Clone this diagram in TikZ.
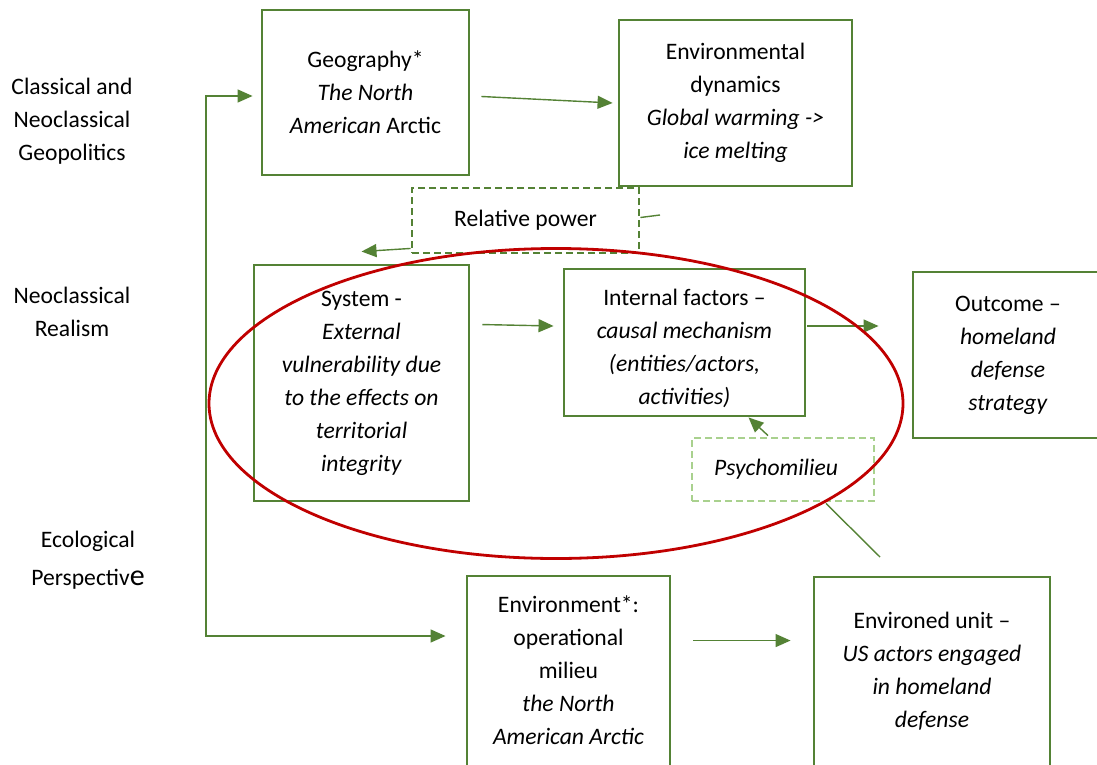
\documentclass[tikz,border=0pt]{standalone}
\usepackage{fontspec}
\setmainfont{Carlito}
\usetikzlibrary{arrows.meta,calc}
\definecolor{gr}{RGB}{84,130,53}
\definecolor{lgr}{RGB}{169,209,142}
\definecolor{rd}{RGB}{192,0,0}
\begin{document}
\begin{tikzpicture}[x=1pt,y=-1pt,
  every node/.style={font=\fontsize{23.6}{33}\selectfont, text=black},
  box/.style={draw=gr, line width=2.9pt, align=center, inner sep=0pt},
  dbox/.style={box, dash pattern=on 7pt off 4pt},
  arr/.style={draw=gr, line width=1.4pt, -{Triangle[length=15pt,width=13pt]}},
  biarr/.style={draw=gr, line width=1.4pt, {Triangle[length=15pt,width=13pt]}-{Triangle[length=15pt,width=13pt]}},
  ln/.style={draw=gr, line width=1.4pt},
  lab/.style={align=center, inner sep=0pt}]
\useasboundingbox (0,0) rectangle (1097,765);
\clip (0,0) rectangle (1097,765);

% left labels
\node[lab] (l1) at (72,121) {Classical and\\Neoclassical\\Geopolitics};
\node[lab] (l2) at (72,312) {Neoclassical\\Realism};
\node[lab] (l3) at (88,541) {Ecological};
\node[lab] (l4) at (88,579) {Perspectiv{\fontsize{30}{33}\selectfont e}};

% boxes
\node[box, minimum width=207pt, minimum height=165pt] (geo) at (365.5,92.5)
  {Geography*\\\textit{The North}\\\textit{American} Arctic};
\node[box, minimum width=233pt, minimum height=166pt] (envd) at (735.5,103)
  {Environmental\\dynamics\\\textit{Global warming ->}\\\textit{ice melting}};
\node[dbox, minimum width=227pt, minimum height=65pt] (rp) at (525.5,220.5)
  {Relative power};
\node[box, minimum width=215pt, minimum height=236pt] (sys) at (361.5,383)
  {System -\\\textit{External}\\\textit{vulnerability due}\\\textit{to the effects on}\\\textit{territorial}\\\textit{integrity}};
\node[box, minimum width=241pt, minimum height=147pt] (int) at (684.5,342.5) {};
\node[lab] (intt) at (684.5,348.5)
  {Internal factors –\\\textit{causal mechanism}\\\textit{(entities/actors,}\\\textit{activities)}};
\node[box, minimum width=190pt, minimum height=166pt] (out) at (1008,355)
  {Outcome –\\\textit{homeland}\\\textit{defense}\\\textit{strategy}};
\node[dbox, draw=lgr, minimum width=182pt, minimum height=63pt] (psy) at (783,469.5) {};
\node[lab] (psyt) at (776,469.5) {\textit{Psychomilieu}};
\node[box, minimum width=203pt, minimum height=224pt] (envm) at (568.5,688) {};
\node[lab] (envmt) at (568.5,670)
  {Environment*:\\operational\\milieu\\\textit{the North}\\\textit{American Arctic}};
\node[box, minimum width=236pt, minimum height=223pt] (enu) at (932,688.5) {};
\node[lab] (enut) at (932,671)
  {Environed unit –\\\textit{US actors engaged}\\\textit{in homeland}\\\textit{defense}};

% connectors
\draw[arr] ($(geo.east)+(11,4)$) -- ($(envd.west)+(-5,0)$);
\draw[arr] ($(rp.south west)+(0,-6)$) -- ($(sys.north)+(0,-12)$);
\coordinate (stub) at (660,215);
\draw[ln] ($(rp.east)+(0,-3)$) -- (stub);
\draw[arr] ($(sys.north east)+(12,61)$) -- ($(int.west)+(-9,-16.5)$);
\draw[arr] ($(int.east)+(1,-16.5)$) -- ($(out.west)+(-33,-29)$);
\draw[arr] ($(psy.north)+(-15,-1)$) -- ($(int.south)+(64,0)$);
\coordinate (pe) at (880,557);
\draw[ln] (pe) -- ($(psy.south)+(43,1)$);
\coordinate (lt) at (206,96);
\coordinate (lb) at (206,636);
\draw[biarr] ($(geo.west)+(-8,3.5)$) -- (lt) -- (lb) -- ($(envm.west)+(-20,-52)$);
\draw[arr] ($(envm.north east)+(22,66)$) -- ($(enu.north west)+(-22,65)$);

% red ellipse
\draw[rd, line width=2.8pt] (556,403.5) ellipse [x radius=347pt, y radius=155pt];
\end{tikzpicture}
\end{document}
